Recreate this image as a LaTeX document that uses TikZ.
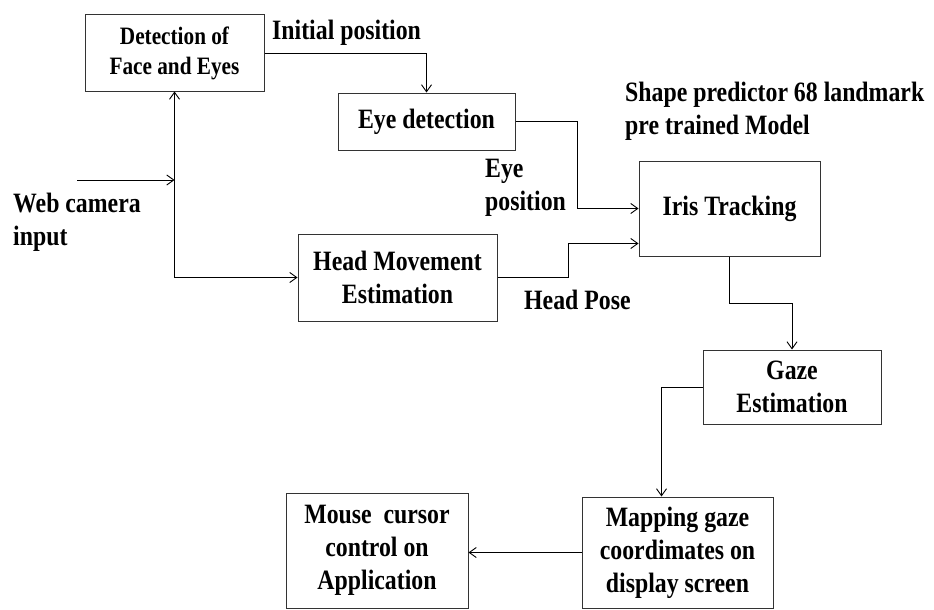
\documentclass[tikz,border=0pt]{standalone}
\usepackage{fontspec}
\setmainfont{Liberation Serif}[FakeStretch=0.85]
\usetikzlibrary{arrows.meta}
\usetikzlibrary{calc}
\usetikzlibrary{positioning}

\begin{document}
\begin{tikzpicture}[x=1pt,y=-1pt,
  box/.style={draw=black!80,line width=1pt,inner sep=0pt,align=center,
    font=\fontsize{28}{33}\selectfont\bfseries},
  lbl/.style={inner sep=0pt,align=left,anchor=west,
    font=\fontsize{28}{33}\selectfont\bfseries},
  link/.style={draw,line width=0.9pt,-{Straight Barb[length=7pt,width=10pt]}}]

  \useasboundingbox (0,0) rectangle (934,610);

  \node [box,minimum width=179pt,minimum height=76pt,
    font=\fontsize{25}{30}\selectfont\bfseries] (face) at (174.5,53) {Detection of\\Face and Eyes};
  \node [box,minimum width=177pt,minimum height=57pt] (eyedet) at (426.5,121.5) {Eye detection};
  \node [box,minimum width=199pt,minimum height=87pt] (head) at (397.5,277.5) {Head Movement\\Estimation};
  \node [box,minimum width=181pt,minimum height=95pt] (iris) at (729.5,208.5) {Iris Tracking};
  \node [box,minimum width=178pt,minimum height=74pt] (gaze) at (792,387) {Gaze\\Estimation};
  \node [box,minimum width=191pt,minimum height=111pt] (mapping) at (677.5,552.5) {Mapping gaze\\coordimates on\\display screen};
  \node [box,minimum width=182pt,minimum height=115pt] (mouse) at (377,550.5) {Mouse~ cursor\\control on\\Application};

  % labels
  \node [lbl] (initpos) at (272,33) {Initial position};
  \node [lbl] (eyepos) at (485,188) {Eye\\position};
  \node [lbl] (headpose) at (524,300) {Head Pose};
  \node [lbl] (model) at (625,111) {Shape predictor 68 landmark\\pre trained Model};
  \node [lbl] (webcam) at (13,222) {Web camera\\input};

  % camera input
  \coordinate (cam) at (77,180);
  \coordinate (join) at (face.south |- cam);
  \coordinate (split) at (face.south |- head.west);

  \path [link] (cam) -- (join);
  \path [link] (split) -- (face.south);
  \path [link] (split) -- (head.west);

  \path [link] (face.east) -| (eyedet.north);
  \path [link] (eyedet.east) -- ++(62,0) |- (iris.west);
  \path [link] (head.east) -- ++(71,0) |- ([yshift=-35pt]iris.west);
  \path [link] (iris.south) -- ++(0,47) -| (gaze.north);
  \path [link] (gaze.west) -| ([xshift=-16pt]mapping.north);
  \path [link] (mapping.west) -- (mapping.west -| mouse.east);
\end{tikzpicture}
\end{document}
